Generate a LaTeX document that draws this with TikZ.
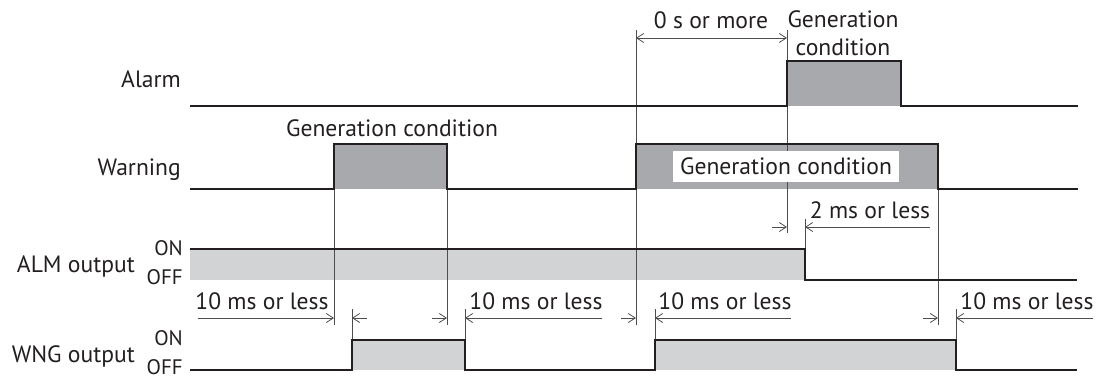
\documentclass[tikz,border=0pt]{standalone}
\usepackage{fontspec}
\setmainfont{PT Sans}
\usetikzlibrary{arrows.meta}
\definecolor{ink}{HTML}{231F20}
\definecolor{darkfill}{HTML}{A7A9AC}
\definecolor{lightfill}{HTML}{D1D3D4}
\definecolor{guide}{HTML}{4D4D4F}
\begin{document}
\begin{tikzpicture}[x=1pt,y=-1pt,
  sig/.style={draw=ink,line width=1.3pt,line join=miter},
  guideline/.style={draw=guide,line width=0.8pt},
  dim/.style={draw=guide,line width=0.8pt,-{Straight Barb[length=7pt,width=9pt,line width=0.8pt]}},
  twodim/.style={draw=guide,line width=0.8pt,{Straight Barb[length=7pt,width=9pt,line width=0.8pt]}-{Straight Barb[length=7pt,width=9pt,line width=0.8pt]}},
  lbl/.style={font=\fontsize{23.6}{26}\selectfont,inner sep=0pt,text=ink},
  onoff/.style={font=\fontsize{21}{24}\selectfont,inner sep=0pt,text=ink},
  gencond/.style={lbl,fill=white,inner xsep=7pt,inner ysep=0pt,minimum height=31pt}
]
\useasboundingbox (0,0) rectangle (1098,378);
% fills
\fill[darkfill] (787,61) rectangle (901,106);
\fill[darkfill] (334,144) rectangle (447,189);
\fill[darkfill] (636,144) rectangle (938,189);
\fill[lightfill] (190,249) rectangle (805,280);
\fill[lightfill] (352,340) rectangle (465,370);
\fill[lightfill] (655,340) rectangle (956,370);
% guide coordinates
\coordinate (g1t) at (334,144); \coordinate (g1b) at (334,325);
\coordinate (g2t) at (447,144); \coordinate (g2b) at (447,325);
\coordinate (g3t) at (636,30);  \coordinate (g3b) at (636,325);
\coordinate (g4t) at (787,30);  \coordinate (g4b) at (787,233);
\coordinate (g5t) at (938,144); \coordinate (g5b) at (938,325);
\coordinate (e1t) at (805,219); \coordinate (e1b) at (805,249);
\coordinate (e2t) at (352,309); \coordinate (e2b) at (352,340);
\coordinate (e3t) at (465,309); \coordinate (e3b) at (465,340);
\coordinate (e4t) at (655,309); \coordinate (e4b) at (655,340);
\coordinate (e5t) at (956,309); \coordinate (e5b) at (956,340);
\foreach \a in {g1,g2,g3,g4,g5,e1,e2,e3,e4,e5} \draw[guideline] (\a t) -- (\a b);
% signals
\draw[sig] (190,106) -- (787,106) -- (787,61) -- (901,61) -- (901,106) -- (1078,106);
\draw[sig] (190,189) -- (334,189) -- (334,144) -- (447,144) -- (447,189) -- (636,189)
  -- (636,144) -- (938,144) -- (938,189) -- (1078,189);
\draw[sig] (190,249) -- (805,249) -- (805,280) -- (1077,280);
\draw[sig] (190,370) -- (352,370) -- (352,340) -- (465,340) -- (465,370) -- (655,370)
  -- (655,340) -- (956,340) -- (956,370) -- (1077,370);
% row labels
\node[lbl,anchor=base east] (alarm) at (181,87) {Alarm};
\node[lbl,anchor=base east] (warning) at (181,175) {Warning};
\node[lbl,anchor=base east] (alm) at (135,272) {ALM output};
\node[onoff,anchor=base east] (almon) at (183,255) {ON};
\node[onoff,anchor=base east] (almoff) at (183,284) {OFF};
\node[lbl,anchor=base east] (wng) at (135,362) {WNG output};
\node[onoff,anchor=base east] (wngon) at (183,345) {ON};
\node[onoff,anchor=base east] (wngoff) at (183,374) {OFF};
% generation condition labels
\node[lbl,anchor=base] (gc1) at (392,136) {Generation condition};
\node[lbl,anchor=base] (gc2a) at (843,27) {Generation};
\node[lbl,anchor=base] (gc2b) at (843,55) {condition};
\node[gencond] (gc3) at (786,166.5) {Generation condition};
% 0 s or more
\coordinate (z1) at (636,38); \coordinate (z2) at (787,38);
\draw[twodim] (z1) -- (z2);
\node[lbl,anchor=base] (zero) at (711,28) {0 s or more};
% 2 ms or less
\coordinate (t1) at (772,227); \coordinate (t2) at (787,227);
\coordinate (t3) at (930,227); \coordinate (t4) at (805,227);
\draw[dim] (t1) -- (t2);
\draw[dim] (t3) -- (t4);
\node[lbl,anchor=base] (twoms) at (870,218) {2 ms or less};
% 10 ms or less
\coordinate (a1) at (198,318); \coordinate (a2) at (334,318);
\coordinate (a3) at (367,318); \coordinate (a4) at (352,318);
\draw[dim] (a1) -- (a2); \draw[dim] (a3) -- (a4);
\node[lbl,anchor=base] (ten1) at (262,309) {10 ms or less};
\coordinate (b1) at (432,318); \coordinate (b2) at (447,318);
\coordinate (b3) at (602,318); \coordinate (b4) at (465,318);
\draw[dim] (b1) -- (b2); \draw[dim] (b3) -- (b4);
\node[lbl,anchor=base] (ten2) at (536,309) {10 ms or less};
\coordinate (c1) at (621,318); \coordinate (c2) at (636,318);
\coordinate (c3) at (791,318); \coordinate (c4) at (655,318);
\draw[dim] (c1) -- (c2); \draw[dim] (c3) -- (c4);
\node[lbl,anchor=base] (ten3) at (725,309) {10 ms or less};
\coordinate (d1) at (923,318); \coordinate (d2) at (938,318);
\coordinate (d3) at (1093,318); \coordinate (d4) at (956,318);
\draw[dim] (d1) -- (d2); \draw[dim] (d3) -- (d4);
\node[lbl,anchor=base] (ten4) at (1027,309) {10 ms or less};
\end{tikzpicture}
\end{document}
